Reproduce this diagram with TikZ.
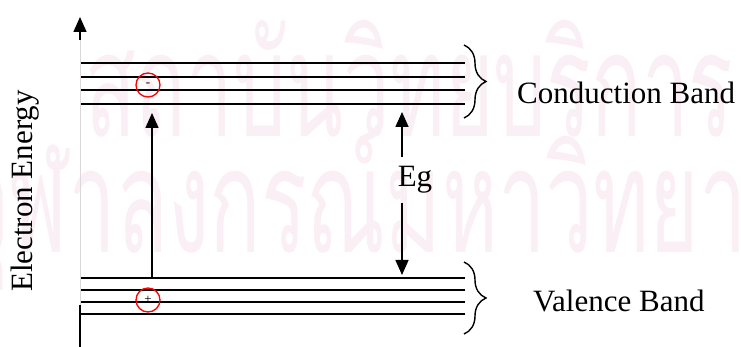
\documentclass[tikz,border=0pt]{standalone}
\usepackage{fontspec}
\setmainfont{Liberation Serif}
\newfontfamily\thaifont[Script=Thai]{Loma}
\usetikzlibrary{arrows.meta,decorations.pathreplacing}
\definecolor{wmpink}{RGB}{250,239,244}
\begin{document}
\begin{tikzpicture}[x=1pt,y=-1pt,
  level/.style={line width=1.7pt},
  tri/.style={-{Triangle[length=15pt,width=13pt]}, line width=1.6pt},
  lbl/.style={font=\fontsize{31}{31}\selectfont, inner sep=0pt},
  carrier/.style={circle, draw=red, line width=1.3pt, minimum size=24pt,
    inner sep=0pt, font=\fontsize{13}{13}\selectfont},
  bandbrace/.style={decorate, decoration={brace, amplitude=22pt}, line width=1.4pt},
  wm/.style={text=wmpink, font=\thaifont\fontsize{145}{145}\selectfont,
    inner sep=0pt, anchor=base west}]
\useasboundingbox (0,0) rectangle (741,347);

% faint background lettering
\begin{scope}
  \clip (0,0) rectangle (741,347);
  \node[wm, xscale=0.575] (wm1) at (85,137) {สถาบันวิทยบริการ};
  \node[wm, xscale=0.587] (wm2) at (-40,253) {จุฬาลงกรณ์มหาวิทยาลัย};
\end{scope}

% energy levels
\foreach \y [count=\i] in {63,77,90,104} {
  \coordinate (c\i w) at (81,\y);
  \coordinate (c\i e) at (465,\y);
  \draw[level] (c\i w) -- (c\i e);
}
\foreach \y [count=\i] in {278,290,302,314} {
  \coordinate (v\i w) at (81,\y);
  \coordinate (v\i e) at (465,\y);
  \draw[level] (v\i w) -- (v\i e);
}

% energy axis
\coordinate (axtop) at (80,17);
\coordinate (axmid) at (80,40);
\coordinate (axlow) at (80,305);
\coordinate (axbot) at (80,347);
\draw[line width=0.6pt, black!15] (axmid) -- (axlow);
\draw[line width=1.6pt] (axlow) -- (axbot);
\draw[tri] (axmid) -- (axtop);
\node[lbl, rotate=90, anchor=base] (ylabel) at (32,191) {Electron Energy};

% excitation of an electron across the gap
\coordinate (exfrom) at (152,278);
\coordinate (exto) at (152,113);
\draw[tri] (exfrom) -- (exto);
\node[carrier] (elec) at (148,85) {-};
\node[carrier] (hole) at (148,300) {+};

% band gap
\coordinate (egtop) at (402,112);
\coordinate (egbot) at (402,275);
\node[lbl, inner ysep=9pt] (eg) at (415,180) {Eg};
\draw[tri] (eg.north -| egtop) -- (egtop);
\draw[tri] (eg.south -| egbot) -- (egbot);

% band braces and names
\coordinate (cbtop) at (464,45);
\coordinate (cbbot) at (464,118);
\coordinate (vbtop) at (464,262);
\coordinate (vbbot) at (464,334);
\draw[bandbrace] (cbtop) -- (cbbot);
\draw[bandbrace] (vbtop) -- (vbbot);
\node[lbl, anchor=base west] (cbname) at (517,104) {Conduction Band};
\node[lbl, anchor=base west] (vbname) at (533,311) {Valence Band};
\end{tikzpicture}
\end{document}
